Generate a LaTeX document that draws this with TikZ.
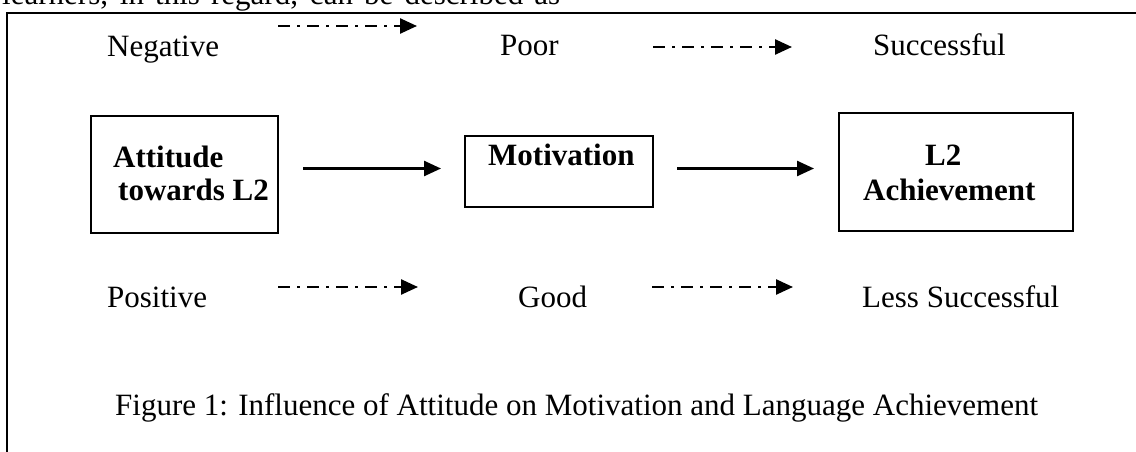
\documentclass[tikz,border=0pt]{standalone}
\usepackage{fontspec}
\setmainfont{Liberation Serif}
\usetikzlibrary{arrows.meta}
\begin{document}
\begin{tikzpicture}[x=1pt,y=-1pt,
  txt/.style={inner sep=0pt,anchor=base west,font=\fontsize{31}{33}\selectfont},
  btxt/.style={txt,font=\fontsize{31}{33}\selectfont\bfseries},
  boxnode/.style={draw,line width=2pt,inner sep=0pt},
  solidarrow/.style={line width=2.5pt,-{Triangle[length=17pt,width=15pt]}},
  dasharrow/.style={line width=2.5pt,dash pattern=on 12pt off 7pt on 3pt off 7pt,-{Triangle[length=17pt,width=15pt]}},
  frameline/.style={line width=2.5pt}
]
\useasboundingbox (0,0) rectangle (1136,452);
\fill[white] (0,0) rectangle (1136,452);
% text above the frame (cut by the page edge)
\node[txt] (prev) at (2,5) {\makebox[558pt][s]{learners, in this regard, can be described as}};
% frame
\draw[frameline] (1145,13) -- (7,13) -- (7,470);
% top row
\node[txt] (neg) at (107,57) {Negative};
\node[txt] (poor) at (500,56) {Poor};
\node[txt] (succ) at (873,56) {Successful};
% bottom row
\node[txt] (pos) at (107,307) {Positive};
\node[txt] (good) at (518,307) {Good};
\node[txt] (less) at (862,307) {Less Successful};
% boxes
\node[boxnode,minimum width=187pt,minimum height=117pt] (att) at (184.5,174.5) {};
\node[boxnode,minimum width=188pt,minimum height=71pt] (mot) at (559,171.5) {};
\node[boxnode,minimum width=234pt,minimum height=118pt] (ach) at (956,172) {};
\node[btxt] (attA) at (113,167) {Attitude};
\node[btxt] (attB) at (118,200) {towards L2};
\node[btxt] (motA) at (488,165) {Motivation};
\node[btxt] (achA) at (925,165) {L2};
\node[btxt] (achB) at (863,200) {Achievement};
% solid arrows
\coordinate (lvl) at (0,168.5);
\draw[solidarrow,shorten <=24pt,shorten >=23pt] (att.east |- lvl) -- (mot.west |- lvl);
\draw[solidarrow,shorten <=23pt,shorten >=24pt] (mot.east |- lvl) -- (ach.west |- lvl);
% dash-dot arrows
\coordinate (d1s) at (278,26);
\coordinate (d1e) at (417,26);
\coordinate (d2s) at (653,47);
\coordinate (d2e) at (792,47);
\coordinate (d3s) at (278,287);
\coordinate (d3e) at (418,287);
\coordinate (d4s) at (652,287);
\coordinate (d4e) at (793,287);
\draw[dasharrow] (d1s) -- (d1e);
\draw[dasharrow] (d2s) -- (d2e);
\draw[dasharrow] (d3s) -- (d3e);
\draw[dasharrow] (d4s) -- (d4e);
% caption
\node[txt] (cap) at (115,415) {Figure 1: Influence of Attitude on Motivation and Language Achievement};
\end{tikzpicture}
\end{document}
